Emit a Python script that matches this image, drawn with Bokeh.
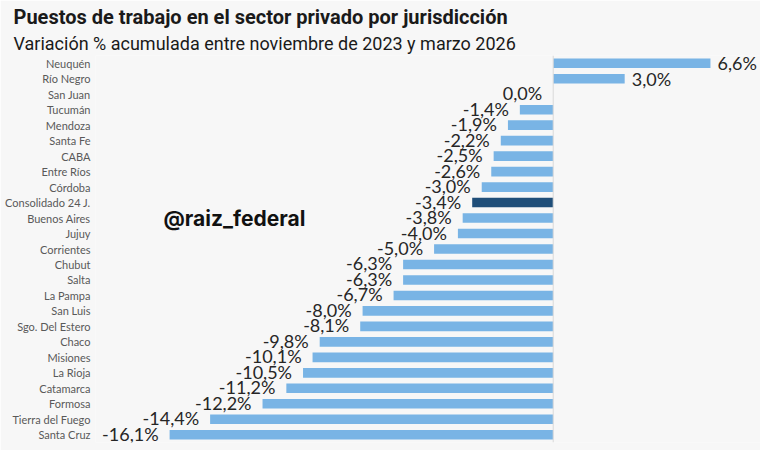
from bokeh.plotting import figure
from bokeh.models import FactorRange, Range1d, Span, Label, ColumnDataSource, Title
from bokeh.core.properties import value
from bokeh.embed import file_html
from bokeh.resources import INLINE

categories = ["Neuquén", "Río Negro", "San Juan", "Tucumán", "Mendoza", "Santa Fe",
              "CABA", "Entre Ríos", "Córdoba", "Consolidado 24 J.", "Buenos Aires",
              "Jujuy", "Corrientes", "Chubut", "Salta", "La Pampa", "San Luis",
              "Sgo. Del Estero", "Chaco", "Misiones", "La Rioja", "Catamarca",
              "Formosa", "Tierra del Fuego", "Santa Cruz"]
values = [6.6, 3.0, 0.0, -1.4, -1.9, -2.2, -2.5, -2.6, -3.0, -3.4, -3.8, -4.0, -5.0,
          -6.3, -6.3, -6.7, -8.0, -8.1, -9.8, -10.1, -10.5, -11.2, -12.2, -14.4, -16.1]
highlight = "Consolidado 24 J."
title_text = "Puestos de trabajo en el sector privado por jurisdicción"
subtitle_text = "Variación % acumulada entre noviembre de 2023 y marzo 2026"

BG = "#f7f7f7"
LIGHT = "#79b4e5"
DARK = "#1f4e79"

labels = [f"{v:.1f}".replace(".", ",").replace("-0,0", "0,0") + "%" for v in values]
colors = [DARK if c == highlight else LIGHT for c in categories]

src = ColumnDataSource(dict(cat=categories, val=values, lab=labels, col=colors))
neg = ColumnDataSource(dict(cat=[c for c, v in zip(categories, values) if v <= 0],
                            val=[v for v in values if v <= 0],
                            lab=[l for l, v in zip(labels, values) if v <= 0]))
pos = ColumnDataSource(dict(cat=[c for c, v in zip(categories, values) if v > 0],
                            val=[v for v in values if v > 0],
                            lab=[l for l, v in zip(labels, values) if v > 0]))

p = figure(width=760, height=450, output_backend="svg", toolbar_location=None,
           y_range=FactorRange(*list(reversed(categories))),
           x_range=Range1d(-19.21, 8.70),
           min_border_left=95, min_border_right=0, min_border_top=55, min_border_bottom=8)
p.title = Title(text=title_text, align="left", offset=-82, standoff=0,
                vertical_align="bottom",
                text_font="Roboto", text_font_style="bold", text_font_size="20px",
                text_color="#1a1a1a")
p.add_layout(Title(text=subtitle_text, align="left", offset=-82, standoff=4,
                   text_font="Roboto", text_font_style="normal", text_font_size="18px",
                   text_color="#1a1a1a"), "above")
p.background_fill_color = BG
p.border_fill_color = BG
p.outline_line_color = None
p.xgrid.visible = False
p.ygrid.visible = False
p.xaxis.visible = False

ya = p.yaxis[0]
ya.axis_line_color = None
ya.major_tick_line_color = None
ya.minor_tick_line_color = None
ya.major_tick_in = 0
ya.major_tick_out = 0
ya.major_label_standoff = 5
ya.major_label_text_font = "Lato"
ya.major_label_text_font_size = "11px"
ya.major_label_text_color = "#595959"

p.hbar(y="cat", left=0, right="val", height=0.62, fill_color="col", line_color=None, source=src)
p.add_layout(Span(location=0, dimension="height", line_color="#d9d9d9", line_width=1))

p.text(x="val", y="cat", text="lab", source=neg, text_align="right", text_baseline="middle",
       x_offset=-11, y_offset=-1, text_font=value("Lato"), text_font_size="18px",
       text_color="#262626")
p.text(x="val", y="cat", text="lab", source=pos, text_align="left", text_baseline="middle",
       x_offset=7, y_offset=0, text_font=value("Lato"), text_font_size="18px",
       text_color="#262626")

p.add_layout(Label(x=68, y=224, x_units="screen", y_units="screen",
                   text="@raiz_federal", text_font="Inter", text_font_style="bold",
                   text_font_size="21px", text_color="#111111", text_baseline="middle"))

open("out.html", "w").write(file_html(p, INLINE))
